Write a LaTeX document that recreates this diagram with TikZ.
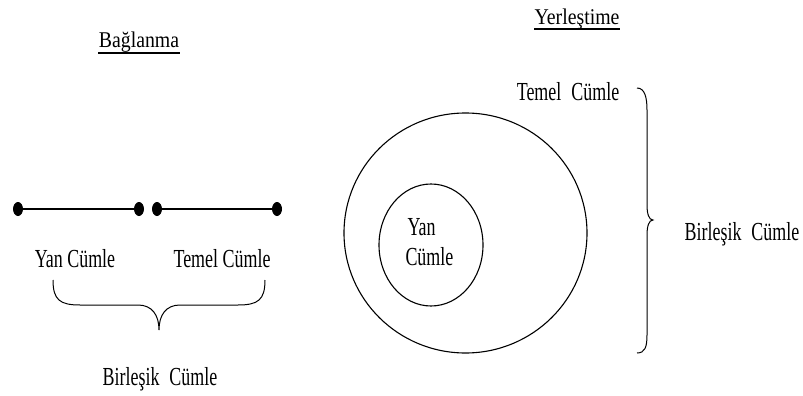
\documentclass[tikz,border=0pt]{standalone}
\usepackage{fontspec}
\setmainfont{Liberation Serif}
\newfontfamily\narrowfont[FakeStretch=0.69]{Liberation Serif}
\newfontfamily\titlefont[FakeStretch=0.88]{Liberation Serif}
\usetikzlibrary{shapes.geometric}
\begin{document}
\begin{tikzpicture}[x=1pt,y=-1pt, line width=1pt,
  lbl/.style={font=\narrowfont\fontsize{26}{30}\selectfont, inner sep=0pt, anchor=base},
  ttl/.style={font=\titlefont\fontsize{22.5}{26}\selectfont, inner sep=0pt, anchor=base},
  dot/.style={ellipse, fill=black, minimum width=10pt, minimum height=14pt, inner sep=0pt},
  ring/.style={ellipse, draw, line width=1.1pt, inner sep=0pt},
  link/.style={line width=1.3pt},
  bracepath/.style={line width=1pt},
  uline/.style={line width=1.5pt}]
\useasboundingbox (0,0) rectangle (803,396);

% titles
\node[ttl] (bag) at (139,48) {Bağlanma};
\draw[uline] ([yshift=-5pt]bag.base west) -- ([yshift=-5pt]bag.base east);
\node[ttl] (yer) at (577,25) {Yerleştime};
\draw[uline] ([yshift=-4pt]yer.base west) -- ([yshift=-4pt]yer.base east);

% left: dots and lines
\node[dot] (d1) at (18,209) {};
\node[dot] (d2) at (139,209) {};
\node[dot] (d3) at (157,209) {};
\node[dot] (d4) at (277,209) {};
\draw[link] (d1.center) -- (d2.center);
\draw[link] (d3.center) -- (d4.center);

\node[lbl] (yanL) at (75,267) {Yan Cümle};
\node[lbl] (temL) at (222,267) {Temel Cümle};

\draw[bracepath] (53,280) .. controls (53,300) and (60,305) .. (80,305) -- (138,305)
  .. controls (152,305) and (159,315) .. (159,330)
  .. controls (159,315) and (166,305) .. (180,305) -- (238,305)
  .. controls (258,305) and (265,300) .. (265,280);

\node[lbl] (birL) at (160,385) {Birleşik\hspace{10pt}Cümle};

% right: circles
\node[ring, minimum width=243pt, minimum height=240pt] (outer) at (465.5,233) {};
\node[ring, minimum width=104pt, minimum height=122pt] (inner) at (431,245) {};
\node[lbl, anchor=base west] (yanR) at (407,235) {Yan};
\node[lbl, anchor=base west] (cumR) at (405,265) {Cümle};

\node[lbl] (temR) at (568,100) {Temel\hspace{10pt}Cümle};

\draw[bracepath] (637,88) .. controls (645,88) and (647,98) .. (647,110) -- (647,205)
  .. controls (647,214) and (649,220) .. (653,220)
  .. controls (649,220) and (647,226) .. (647,235) -- (647,335)
  .. controls (647,347) and (645,353) .. (637,353);

\node[lbl] (birR) at (742,240) {Birleşik\hspace{10pt}Cümle};
\end{tikzpicture}
\end{document}
